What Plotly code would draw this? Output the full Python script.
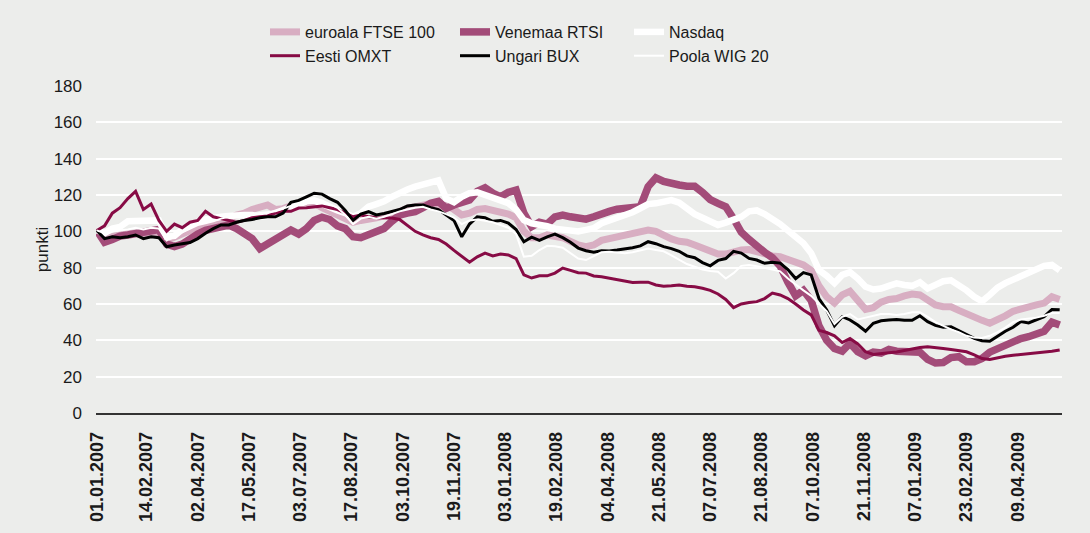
import numpy as np
import pandas as pd
import plotly.graph_objects as go

# Weekly index levels (01.01.2007 = 100), one value per Monday
ftse = [100, 96, 97, 98, 99, 99, 98, 99, 98, 95,
        97, 98, 100, 102, 104, 105, 106, 107, 109, 110,
        112, 113.5, 114.5, 112, 112.5, 114, 115.6, 116, 115.5, 113,
        111, 108.5, 106.5, 105, 106, 106.5, 107.5, 108.5, 109, 111,
        112.8, 113.5, 114.5, 115.4, 113, 114.5, 112, 109, 110, 112,
        112.5, 111.5, 110.8, 109.5, 107.5, 100, 96.5, 96.5, 98, 97,
        96.5, 94.5, 92.5, 91.6, 92.5, 95, 96.1, 97, 98, 98.8,
        99.9, 100.7, 100, 97.5, 95.8, 94.5, 94, 92.5, 91, 89,
        87.5, 87.5, 88.8, 89.7, 90, 88.5, 87, 86.5, 86, 84.2,
        83, 81.5, 78.5, 70, 64, 60.5, 65, 67, 62, 57,
        58, 61, 62.5, 63, 64.5, 65.5, 65, 62.2, 59.5, 58.5,
        58.5, 56.5, 55, 52.5, 51, 49.4, 51, 53.5, 56, 57.5,
        58.5, 59.5, 60.5, 64, 62.5]

rtsi = [100.5, 94, 95.5, 97.4, 98, 98.5, 99.5, 100.5, 101, 93,
        91.6, 93, 96, 98.5, 100.5, 101.5, 102.6, 103.5, 101.5, 99,
        96, 90.5, 93, 96, 98.5, 100.7, 98.5, 101.5, 106, 107.8,
        106.5, 103, 101.5, 97, 96.5, 98, 100, 101.5, 105.5, 109,
        110, 110.8, 113, 115.4, 116.5, 112.7, 114.5, 115.4, 117.2, 122,
        124, 121, 119, 121.5, 122.7, 110, 102.6, 105, 104, 108,
        109, 108, 107.5, 106.7, 108, 110, 111, 112.2, 112.7, 112.7,
        113.6, 124.6, 129.5, 127.5, 127, 125.5, 124.8, 124.8, 121.5, 117.5,
        115.4, 113.5, 107, 99.5, 95.5, 91.5, 88.5, 85.5, 81, 72,
        64.5, 67.5, 62, 48, 40, 35.5, 34, 38.4, 33.7, 31.5,
        33.5, 33, 35, 34, 34, 34.5, 33.5, 29.5, 27.5, 27.8,
        30.5, 31, 28.2, 28.2, 30, 33.5, 35.5, 38, 39.5, 41,
        42, 43, 45, 50, 48.4]

nasdaq = [100.5, 99, 101.5, 102.5, 105.5, 105.5, 105.5, 106, 106, 97,
          97.5, 101, 103.5, 105.3, 106.5, 107.5, 108, 108.5, 109, 109,
          109, 108, 108.5, 110, 111.5, 113, 115.4, 116.5, 117, 115,
          113.6, 111.5, 110, 108, 110, 113.6, 115, 116.5, 119, 121.5,
          123, 124.6, 126, 127.3, 128, 118, 116, 119, 121, 121.5,
          120, 119, 117.2, 115.5, 112, 106.2, 104.4, 103.8, 102.8, 101.5,
          100.7, 100.5, 99.9, 100.8, 101.7, 104.5, 106, 107.5, 108.5, 110.5,
          112.7, 115, 115.4, 116.5, 117.2, 115.8, 112.5, 109.5, 107.5, 105,
          103.5, 104.8, 106, 108, 111, 111.5, 109.5, 107, 104, 100.5,
          97, 93.4, 88, 78.7, 75.5, 71.5, 76, 77.5, 74, 69.5,
          68, 68.5, 70, 71.4, 70.5, 70, 72, 68.5, 70.5, 72.5,
          73, 70.5, 67.5, 64, 61.5, 65, 69, 71.5, 73.5, 75,
          77, 79, 81, 81.5, 78.5]

omxt = [100.5, 103, 110, 113, 118, 122, 112, 115, 106, 100,
        104, 102, 105, 106, 111, 108, 107, 106, 105, 106,
        107.5, 108, 108.5, 110, 111, 111, 112.8, 113, 113.4, 114,
        113, 112, 110, 108, 109, 108, 107.5, 107.3, 107.3, 106.5,
        103, 100, 98, 96.5, 95.5, 93, 89.5, 86, 83, 86,
        88, 86.5, 87.5, 87, 85, 76, 74.3, 75.5, 75.5, 77,
        79.8, 78.5, 77.2, 77, 75.4, 75, 74.3, 73.5, 72.5, 71.8,
        72, 72, 70.5, 69.8, 70, 70.5, 69.8, 69.5, 68.7, 67.5,
        65.5, 62.5, 58, 60, 60.8, 61.3, 63, 66, 65, 63,
        60, 56.7, 54, 45.5, 44.3, 42.5, 38.8, 41, 38, 33.7,
        32.2, 32.5, 33.2, 33.6, 34.5, 35.5, 36, 36.5, 36.2, 35.5,
        35, 34.5, 33.7, 32, 30, 29.5, 30.5, 31.2, 31.8, 32.2,
        32.5, 33, 33.5, 34, 34.7]

bux = [100.5, 96, 97, 96.5, 97, 98, 96, 97, 96.5, 91.5,
       92.5, 93, 93.8, 96, 99, 101.5, 103.5, 103.5, 105, 106,
       106.5, 107.5, 108, 108, 110, 116, 117, 119, 121, 120.5,
       118, 116, 111.5, 106, 109.5, 110.8, 109, 109.8, 110.8, 112,
       114, 114.5, 114.5, 113, 112, 109, 106, 97, 104, 108,
       107.5, 105.5, 106, 104.5, 101, 94.3, 96.8, 95, 97, 98.5,
       96.5, 94, 90.8, 89.3, 88.5, 89.3, 89.2, 89.7, 90.3, 91,
       92, 94.3, 93.2, 91.6, 90.5, 89, 86.5, 85.5, 82.8, 81,
       84, 85, 89, 88, 85.1, 84.2, 82.4, 83, 82.5, 79,
       74, 77.3, 76, 63, 56.7, 48, 53, 51.2, 48.4, 45,
       49.4, 50.8, 51.2, 51.5, 51, 51, 53.5, 50.3, 48.2, 47.2,
       47.5, 45.5, 43.2, 41.1, 39.8, 39.5, 42.3, 45, 47.2, 50.3,
       49.6, 51.2, 53, 57, 56.8]

wig20 = [100.5, 99, 100, 100.5, 101, 102, 101, 102, 101.5, 95,
         97, 99.5, 101.5, 103.5, 104.5, 105.5, 107, 108, 108.5, 109,
         109.5, 110, 110.5, 111, 112.5, 114, 115, 116.5, 118, 117,
         115, 113, 109, 104, 107, 108, 107, 108, 109.5, 111,
         112, 113, 113.5, 112, 111, 109.5, 107.5, 104, 106, 106.5,
         105.8, 105, 103.5, 102, 98.5, 86, 86.5, 89.7, 92, 91.8,
         91, 88, 85, 84.2, 86.5, 88.5, 88.8, 88.2, 88, 88.5,
         89.5, 90.6, 89.7, 89, 86.8, 84.5, 82, 80.5, 79, 78.2,
         77.8, 74, 77, 81, 81.5, 80.8, 80, 79, 78, 74,
         70.5, 67.5, 64.5, 60, 56, 49, 53, 54.5, 51.5, 52.5,
         53.5, 54.5, 54.5, 54, 54.5, 55.5, 55.5, 53, 50, 48,
         46, 44.5, 42.5, 41.5, 41.3, 42.5, 44.5, 47, 50, 51.5,
         52, 52.5, 53.5, 55, 55]

START = "2007-01-01"
dates = pd.date_range(START, periods=len(ftse), freq="7D")

tick_labels = ["01.01.2007", "14.02.2007", "02.04.2007", "17.05.2007", "03.07.2007",
               "17.08.2007", "03.10.2007", "19.11.2007", "03.01.2008", "19.02.2008",
               "04.04.2008", "21.05.2008", "07.07.2008", "21.08.2008", "07.10.2008",
               "21.11.2008", "07.01.2009", "23.02.2009", "09.04.2009"]
tick_dates = pd.to_datetime(tick_labels, format="%d.%m.%Y")

y_ticks = [0, 20, 40, 60, 80, 100, 120, 140, 160, 180]

# Trading-day axis: each date is placed at its business-day offset from the start
def bday_pos(ds):
    return np.busday_count(np.datetime64(START), np.array(ds, dtype="datetime64[D]")).tolist()

x_pos = bday_pos(dates)
tick_pos = bday_pos(tick_dates)

FONT = "Liberation Sans, Arial, Helvetica, sans-serif"
BG = "#ECEDEB"

series = [
    ("euroala FTSE 100", ftse, "#D8AEC2", 7, "legend"),
    ("Venemaa RTSI", rtsi, "#A34C79", 7.5, "legend2"),
    ("Nasdaq", nasdaq, "#FFFFFF", 6.5, "legend3"),
    ("Eesti OMXT", omxt, "#870B45", 3, "legend"),
    ("Ungari BUX", bux, "#000000", 3, "legend2"),
    ("Poola WIG 20", wig20, "#FFFFFF", 2, "legend3"),
]

fig = go.Figure()
for name, vals, color, width, lg in series:
    fig.add_trace(go.Scatter(
        x=x_pos, y=vals, name=name, mode="lines",
        line=dict(color=color, width=width),
        legend=lg, hoverinfo="skip",
    ))

L, R, T, B = 96, 28, 86, 120
PW, PH = 1090 - L - R, 533 - T - B

legend_common = dict(
    orientation="v", bgcolor="rgba(0,0,0,0)", borderwidth=0,
    font=dict(family=FONT, size=16, color="#1A1A1A"),
    xanchor="left", yanchor="top",
    tracegroupgap=0, itemclick=False, itemdoubleclick=False,
)
legend_top = (533 - B - 15) / PH

fig.update_layout(
    width=1090, height=533,
    margin=dict(l=L, r=R, t=T, b=B, autoexpand=False),
    paper_bgcolor=BG, plot_bgcolor=BG,
    font=dict(family=FONT, color="#1A1A1A"),
    showlegend=True,
    legend=dict(legend_common, x=(265 - L) / PW, y=legend_top),
    legend2=dict(legend_common, x=(455 - L) / PW, y=legend_top),
    legend3=dict(legend_common, x=(629 - L) / PW, y=legend_top),
    xaxis=dict(
        range=[-0.5, 621.5],
        tickmode="array", tickvals=tick_pos, ticktext=tick_labels,
        tickangle=-90, ticks="",
        tickfont=dict(family=FONT, size=18, color="#1A1A1A", weight="bold"),
        showgrid=False, zeroline=False,
        showline=True, linecolor="#333333", linewidth=1.5,
        ticklabelstandoff=10,
        automargin=False,
    ),
    yaxis=dict(
        range=[0, 180], tickmode="array", tickvals=y_ticks,
        tickfont=dict(family=FONT, size=17, color="#1A1A1A"),
        showgrid=True, gridcolor="#FFFFFF", gridwidth=2,
        zeroline=False, showline=False, ticks="",
        ticklabelstandoff=13,
        automargin=False,
        title=dict(text="punkti", font=dict(family=FONT, size=17, color="#1A1A1A"), standoff=0),
    ),
)

fig.write_html("out.html")
